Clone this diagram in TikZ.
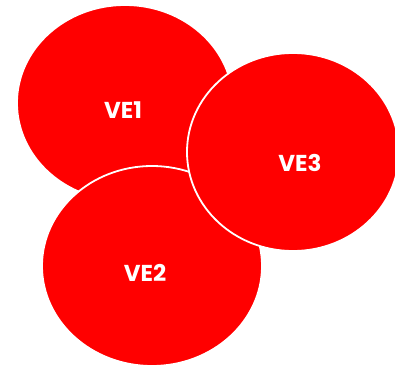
\documentclass[tikz,border=0pt]{standalone}
\usepackage{fontspec}
\newfontfamily\lblfont{Poppins}
\begin{document}
\begin{tikzpicture}[x=1pt,y=-1pt,
  blob/.style={fill=red,draw=white,line width=1.8pt},
  lbl/.style={text=white,font=\lblfont\bfseries\fontsize{23}{23}\selectfont}]
\useasboundingbox (0,0) rectangle (395,366);
\path[blob] (125,103) ellipse [x radius=108, y radius=98];
\path[blob] (152,266) ellipse [x radius=110, y radius=100];
\path[blob] (293,152) ellipse [x radius=106, y radius=99];
\node[lbl] (ve1) at (123,110) {VE1};
\node[lbl] (ve2) at (145,273) {VE2};
\node[lbl] (ve3) at (300,163) {VE3};
\end{tikzpicture}
\end{document}
